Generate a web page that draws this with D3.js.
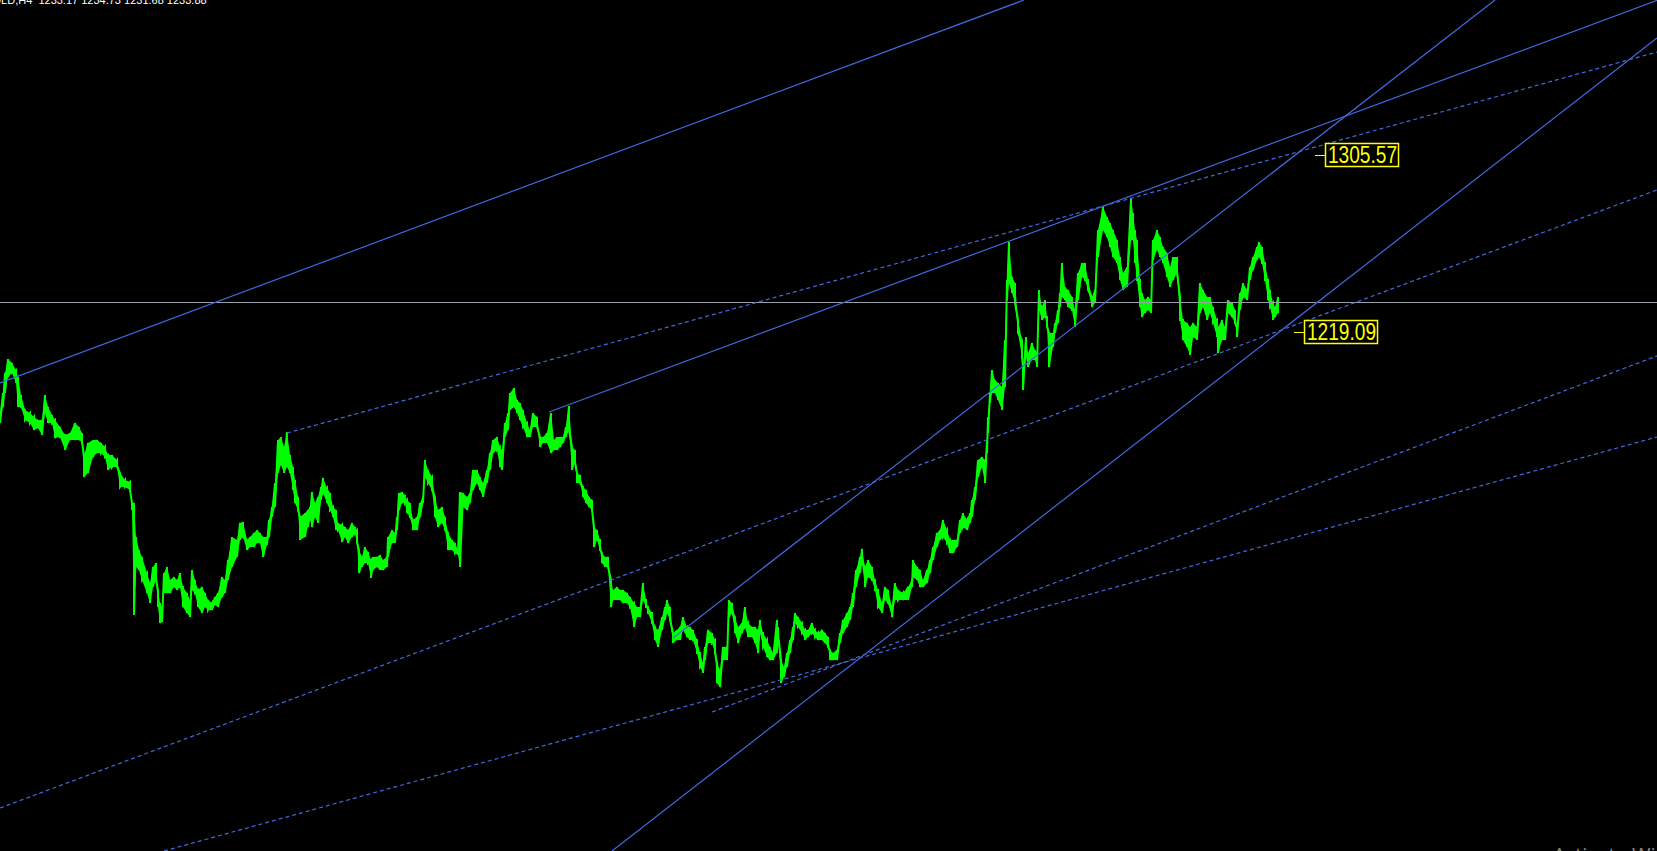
<!DOCTYPE html>
<html>
<head>
<meta charset="utf-8">
<script src="https://cdn.jsdelivr.net/npm/d3@7"></script>
<style>
html, body { margin: 0; padding: 0; background: #000; overflow: hidden; }
</style>
</head>
<body>
<svg width="1657" height="851"></svg>
<script>
var svg = d3.select('svg');

// GOLD H4 - bar index of each sample and its high / low
var bars = [
  0,3,5,8,12,16,18,21,25,30, 34,38,42,45,48,52,55,60,65,70,
  75,79,82,84,88,93,97,101,105,108, 112,117,120,125,130,132,134,136,139,142,
  147,150,153,156,158,160,162,164,167,170, 174,177,180,183,187,190,192,195,198,202,
  205,208,212,215,218,222,225,228,232,237, 240,243,247,250,254,257,260,263,267,269,
  272,275,278,281,284,287,290,293,295,298, 300,305,308,310,312,315,318,321,323,327,
  330,333,336,338,342,345,348,352,355,357, 359,362,365,368,371,373,377,380,383,387,
  388,392,395,397,399,402,405,407,410,413, 417,420,423,425,428,432,435,438,442,445,
  448,452,455,458,460,463,467,470,473,477, 480,483,487,490,493,497,500,502,505,508,
  510,514,517,520,523,527,530,533,537,540, 543,547,551,554,557,560,563,566,569,572,
  575,577,580,583,586,589,592,594,597,600, 602,605,608,611,613,617,620,623,627,630,
  634,637,640,643,646,648,652,655,658,662, 665,667,670,673,677,680,683,687,690,693,
  697,700,703,705,708,712,715,717,720,723, 727,729,732,735,738,742,745,748,752,755,
  758,760,763,767,770,773,777,778,781,784, 787,790,793,795,798,802,805,808,812,815,
  818,822,825,828,830,833,837,840,843,847, 850,853,856,860,862,865,868,872,875,878,
  882,885,888,892,895,898,903,908,912,913, 917,920,923,927,930,933,937,940,943,947,
  950,953,957,960,963,967,970,972,975,978, 982,985,987,988,990,992,995,998,1002,1005,
  1007,1009,1012,1015,1018,1022,1023,1026,1028,1032, 1035,1037,1039,1042,1045,1047,1049,1053,1055,1058,
  1060,1062,1065,1068,1072,1075,1078,1082,1085,1088, 1092,1095,1098,1103,1107,1110,1113,1117,1120,1123,
  1127,1131,1133,1135,1137,1140,1142,1145,1148,1151, 1153,1157,1160,1163,1167,1170,1173,1177,1180,1183,
  1187,1190,1193,1197,1200,1203,1207,1210,1213,1217, 1218,1222,1225,1228,1232,1235,1237,1240,1243,1247,
  1250,1253,1257,1259,1262,1265,1268,1270,1273,1275, 1278
];

var highs = [
  1180.0,1189.3,1199.1,1205.9,1203.9,1200.5,1197.1,1188.3,1181.0,1179.5,
  1177.6,1176.1,1176.1,1188.3,1182.4,1178.5,1176.1,1172.7,1168.8,1169.7,
  1174.6,1172.7,1169.7,1159.0,1164.9,1166.3,1166.3,1164.9,1162.9,1159.0,
  1159.0,1156.5,1150.2,1146.8,1145.8,1135.5,1135.5,1118.9,1112.6,1109.2,
  1101.3,1096.4,1104.3,1106.2,1093.0,1086.7,1084.7,1101.3,1104.3,1097.9,
  1099.4,1097.9,1101.3,1094.5,1091.6,1088.1,1102.8,1097.9,1093.0,1094.5,
  1091.6,1088.1,1086.7,1089.6,1091.6,1099.4,1097.9,1107.7,1118.9,1117.5,
  1125.8,1126.3,1117.5,1118.9,1120.9,1122.3,1120.9,1118.9,1118.9,1127.2,
  1133.6,1145.3,1166.3,1167.8,1162.9,1170.2,1159.0,1153.1,1146.8,1138.5,
  1128.7,1130.6,1132.1,1133.6,1140.9,1135.5,1138.5,1143.4,1147.8,1142.9,
  1140.4,1133.6,1132.1,1125.8,1124.8,1123.8,1122.3,1125.8,1123.8,1122.3,
  1112.6,1109.2,1114.0,1111.6,1107.7,1109.2,1109.2,1110.1,1107.7,1109.2,
  1118.9,1122.3,1120.9,1128.7,1140.4,1140.9,1139.5,1137.0,1135.5,1127.2,
  1128.7,1135.5,1138.5,1156.5,1151.7,1148.2,1138.5,1132.1,1133.6,1128.7,
  1120.9,1117.5,1116.0,1112.6,1140.9,1140.4,1138.5,1140.4,1151.7,1151.7,
  1148.2,1145.3,1151.7,1160.0,1166.3,1167.8,1162.9,1161.4,1174.6,1179.5,
  1189.3,1191.7,1185.9,1184.4,1181.0,1174.6,1171.2,1179.5,1177.6,1167.8,
  1167.8,1169.7,1179.5,1166.3,1167.8,1167.8,1167.8,1172.7,1182.9,1162.9,
  1161.4,1150.2,1149.2,1143.4,1141.9,1138.5,1137.0,1123.8,1122.3,1117.5,
  1111.1,1109.2,1109.2,1097.9,1093.0,1094.5,1093.0,1093.0,1091.6,1089.6,
  1086.7,1084.7,1084.7,1096.4,1088.1,1084.7,1081.8,1075.0,1073.5,1079.8,
  1084.7,1088.1,1084.7,1072.0,1073.5,1075.0,1079.8,1075.0,1075.0,1073.5,
  1068.6,1062.2,1057.4,1065.2,1073.5,1072.0,1068.6,1057.4,1053.9,1065.2,
  1065.2,1088.1,1086.7,1079.8,1075.0,1076.9,1084.7,1076.9,1075.0,1075.0,
  1073.5,1078.4,1072.0,1068.6,1065.2,1062.2,1078.4,1075.0,1058.8,1055.4,
  1062.2,1068.6,1075.0,1081.8,1079.8,1076.9,1073.5,1073.5,1076.9,1073.5,
  1072.0,1073.5,1072.0,1070.1,1063.7,1062.2,1063.7,1072.0,1078.4,1081.8,
  1084.7,1091.6,1102.8,1109.2,1113.1,1104.3,1107.7,1104.3,1097.9,1093.0,
  1086.7,1094.5,1093.0,1084.7,1096.4,1093.0,1091.6,1094.5,1097.9,1107.7,
  1104.3,1102.8,1097.9,1102.8,1107.7,1114.0,1120.9,1122.3,1127.2,1122.3,
  1117.5,1117.5,1117.5,1127.2,1130.6,1127.2,1130.6,1137.0,1143.4,1156.5,
  1158.0,1156.5,1166.3,1177.6,1189.3,1200.5,1195.6,1194.2,1192.2,1215.2,
  1244.5,1263.1,1246.0,1243.0,1225.0,1215.2,1202.0,1216.6,1208.8,1213.7,
  1210.3,1208.8,1239.6,1231.3,1234.7,1226.4,1218.6,1218.6,1223.5,1229.8,
  1238.1,1252.8,1241.1,1239.6,1236.2,1229.8,1247.9,1252.8,1252.8,1244.5,
  1236.2,1239.6,1268.9,1280.2,1275.3,1272.3,1268.9,1264.0,1255.7,1247.9,
  1250.8,1284.6,1277.2,1268.9,1264.0,1244.5,1238.1,1234.7,1236.2,1234.7,
  1264.0,1268.9,1265.5,1260.6,1257.7,1250.8,1255.7,1255.7,1236.2,1225.0,
  1223.5,1221.5,1223.5,1221.5,1243.0,1239.6,1236.2,1236.2,1231.3,1225.0,
  1221.5,1225.0,1221.5,1234.7,1233.3,1229.8,1221.5,1238.1,1243.0,1239.6,
  1250.8,1255.7,1260.6,1263.1,1260.6,1252.8,1244.5,1239.6,1233.3,1231.3,
  1236.2
];

var lows = [
  1174.6,1182.4,1189.3,1197.1,1199.1,1194.2,1182.4,1182.4,1176.1,1174.6,
  1171.2,1172.2,1168.8,1179.5,1174.6,1174.6,1167.3,1167.8,1161.4,1166.3,
  1166.3,1166.3,1165.3,1148.2,1150.2,1158.0,1160.0,1160.0,1158.0,1151.7,
  1153.1,1153.1,1143.4,1143.4,1141.9,1132.1,1080.8,1104.3,1102.8,1097.9,
  1091.6,1086.7,1094.5,1097.9,1084.7,1076.9,1077.4,1091.6,1091.6,1091.6,
  1094.5,1093.0,1094.5,1084.7,1081.8,1079.8,1093.0,1091.6,1084.7,1081.8,
  1084.7,1083.3,1083.3,1085.7,1084.7,1089.6,1091.6,1097.9,1104.3,1109.2,
  1117.5,1118.9,1112.6,1114.0,1114.0,1116.0,1116.0,1109.2,1115.0,1118.9,
  1128.7,1133.6,1150.2,1154.1,1150.2,1153.1,1150.2,1141.9,1135.5,1132.1,
  1117.5,1118.9,1123.8,1127.2,1123.8,1128.7,1125.8,1137.0,1140.4,1135.5,
  1132.1,1128.7,1122.3,1122.3,1116.5,1118.9,1116.0,1118.9,1120.9,1116.0,
  1101.3,1104.3,1106.2,1106.2,1098.9,1102.8,1104.3,1102.8,1102.8,1104.3,
  1109.2,1116.0,1116.0,1122.3,1132.1,1135.5,1135.5,1130.6,1128.7,1122.3,
  1122.3,1128.7,1135.5,1148.2,1145.3,1141.9,1128.7,1123.8,1125.8,1122.3,
  1112.6,1112.6,1111.1,1110.1,1104.3,1133.6,1132.1,1135.5,1141.9,1145.3,
  1141.9,1138.5,1145.3,1151.7,1160.0,1161.4,1153.1,1151.7,1167.8,1171.2,
  1181.0,1182.4,1179.5,1176.1,1172.7,1167.8,1167.8,1172.7,1172.7,1162.9,
  1164.9,1164.9,1160.0,1161.4,1161.4,1162.9,1164.9,1167.8,1171.2,1151.7,
  1155.1,1145.3,1145.3,1138.5,1135.5,1133.6,1132.1,1114.0,1117.5,1112.6,
  1106.2,1104.3,1104.3,1084.7,1088.1,1088.1,1088.1,1086.7,1086.7,1084.7,
  1075.0,1079.8,1079.8,1088.1,1084.7,1081.8,1076.9,1068.6,1065.2,1073.5,
  1078.4,1081.8,1078.4,1067.1,1068.6,1068.6,1073.5,1070.1,1068.6,1068.6,
  1062.2,1055.4,1052.5,1058.8,1067.1,1067.1,1062.2,1047.6,1045.6,1058.8,
  1058.8,1079.8,1081.8,1072.0,1067.1,1072.0,1075.0,1070.1,1070.1,1067.1,
  1062.2,1072.0,1065.2,1060.3,1058.8,1058.8,1062.2,1072.0,1047.6,1050.5,
  1055.4,1062.2,1068.6,1076.9,1075.0,1072.0,1068.6,1070.1,1072.0,1070.1,
  1068.6,1068.6,1067.1,1065.2,1058.8,1058.8,1058.8,1067.1,1072.0,1075.0,
  1078.4,1084.7,1094.5,1101.3,1106.2,1094.5,1099.4,1097.9,1093.0,1084.7,
  1081.8,1088.1,1086.7,1079.8,1088.1,1088.1,1088.1,1088.1,1094.5,1099.4,
  1097.9,1094.5,1094.5,1096.4,1101.3,1107.7,1114.0,1117.5,1118.9,1116.0,
  1111.1,1111.1,1114.0,1120.9,1123.8,1122.3,1125.8,1128.7,1137.0,1148.2,
  1153.1,1145.3,1160.0,1169.7,1184.4,1189.3,1189.3,1185.9,1181.0,1192.2,
  1234.7,1243.0,1238.1,1233.3,1218.6,1206.9,1190.8,1206.9,1202.0,1205.4,
  1205.4,1202.0,1229.8,1225.0,1226.4,1221.5,1202.0,1211.8,1218.6,1223.5,
  1231.3,1236.2,1234.7,1231.3,1229.8,1221.5,1234.7,1246.0,1244.5,1239.6,
  1231.3,1233.3,1255.7,1268.9,1265.5,1260.6,1255.7,1252.8,1244.5,1239.6,
  1241.1,1264.0,1264.0,1252.8,1244.5,1231.3,1226.4,1228.4,1229.8,1228.4,
  1254.3,1259.2,1255.7,1252.8,1246.0,1241.1,1244.5,1247.9,1225.0,1215.2,
  1211.8,1207.9,1216.6,1215.2,1228.4,1231.3,1225.0,1228.4,1223.5,1216.6,
  1208.8,1215.2,1215.2,1228.4,1226.4,1223.5,1216.6,1229.8,1236.2,1234.7,
  1244.5,1249.4,1254.3,1255.7,1252.8,1244.5,1234.7,1231.3,1225.0,1226.4,
  1228.4
];

// trendlines: start [bar, price], end [bar, price], dashed or not
var trendFrom = [[0,1194.2],[549,1180.0],[287,1169.7],[673,1069.6],[612,965.5],[0,986.5],[712,1033.4],[164,965.5]];
var trendTo   = [[1024,1381.3],[1657,1381.1],[1657,1355.9],[1495,1381.3],[1657,1362.7],[1657,1288.5],[1657,1207.4],[1657,1167.8]];
var trendDashed = [false,false,true,false,false,true,true,true];

var bidPrice = 1233.88;
var labelPrices = [1305.57, 1219.09];
var labelBars = [1325, 1304];
var ohlc = ["1233.17", "1234.73", "1231.68", "1233.88"];

var W = 1657, H = 851;
var x = d3.scaleLinear().domain([0, 1657]).range([0, W]);
var y = d3.scaleLinear().domain([965.5, 1381.3]).range([H, 0]);

svg.append("rect").attr("width", W).attr("height", H).attr("fill", "#000");

var series = bars.map(function (b, i) {
    return {bar: b, hi: highs[i], lo: lows[i]};
});

// price bars
var band = d3.area()
    .x(function (d) { return x(d.bar); })
    .y0(function (d) { return y(d.lo); })
    .y1(function (d) { return y(d.hi); });

svg.append("path")
    .datum(series)
    .attr("d", band)
    .attr("fill", "#00ff00");

var zig = [];
series.forEach(function (d) { zig.push([d.bar, d.hi]); zig.push([d.bar, d.lo]); });
svg.append("path")
    .datum(zig)
    .attr("d", d3.line().x(function (d) { return x(d[0]); }).y(function (d) { return y(d[1]); }))
    .attr("fill", "none")
    .attr("stroke", "#00ff00")
    .attr("stroke-width", 2);

svg.selectAll("line.bar")
    .data(series)
    .enter()
    .append("line")
    .attr("class", "bar")
    .attr("x1", function (d) { return x(d.bar); })
    .attr("x2", function (d) { return x(d.bar); })
    .attr("y1", function (d) { return y(d.hi); })
    .attr("y2", function (d) { return y(d.lo); })
    .attr("stroke", "#00ff00")
    .attr("stroke-width", 2)
    .attr("shape-rendering", "crispEdges");

// bid line
svg.append("line")
    .attr("x1", 0).attr("x2", W)
    .attr("y1", Math.round(y(bidPrice)) + 0.5)
    .attr("y2", Math.round(y(bidPrice)) + 0.5)
    .attr("stroke", "#9a9ea6")
    .attr("stroke-width", 1);

// trendlines
svg.selectAll("line.trend")
    .data(trendFrom)
    .enter()
    .append("line")
    .attr("class", "trend")
    .attr("x1", function (d) { return x(d[0]); })
    .attr("y1", function (d) { return y(d[1]); })
    .attr("x2", function (d, i) { return x(trendTo[i][0]); })
    .attr("y2", function (d, i) { return y(trendTo[i][1]); })
    .attr("stroke", "#4169e1")
    .attr("stroke-width", 1.2)
    .attr("stroke-dasharray", function (d, i) { return trendDashed[i] ? "4,3" : null; });

// price labels
var lab = svg.selectAll("g.lab")
    .data(labelPrices)
    .enter()
    .append("g")
    .attr("class", "lab");

lab.append("line")
    .attr("x1", function (d, i) { return x(labelBars[i]) - 10; })
    .attr("x2", function (d, i) { return x(labelBars[i]); })
    .attr("y1", function (d) { return Math.round(y(d)) + 0.5; })
    .attr("y2", function (d) { return Math.round(y(d)) + 0.5; })
    .attr("stroke", "#ffff00")
    .attr("stroke-width", 1);

lab.append("rect")
    .attr("x", function (d, i) { return x(labelBars[i]) + 0.5; })
    .attr("y", function (d) { return Math.round(y(d)) - 11.5; })
    .attr("width", 73)
    .attr("height", 23)
    .attr("fill", "#000")
    .attr("stroke", "#ffff00")
    .attr("stroke-width", 1.5);

lab.append("text")
    .attr("x", function (d, i) { return x(labelBars[i]) + 3; })
    .attr("y", function (d) { return y(d) + 8.5; })
    .attr("textLength", 69)
    .attr("lengthAdjust", "spacingAndGlyphs")
    .attr("fill", "#ffff00")
    .style("font-family", "'Liberation Sans', Arial, sans-serif")
    .style("font-size", "23px")
    .text(function (d) { return d.toFixed(2); });

// symbol header (cut at top edge, as in the terminal window)
svg.append("text")
    .attr("x", -16)
    .attr("y", 4)
    .attr("fill", "#ffffff")
    .style("font-family", "'Liberation Sans', Arial, sans-serif")
    .style("font-size", "11px")
    .attr("xml:space", "preserve")
    .text("GOLD,H4  " + ohlc.join(" "));

// watermark peeking in at bottom edge
svg.append("text")
    .attr("x", 1553)
    .attr("y", 862)
    .attr("fill", "#8a8a8a")
    .style("font-family", "'Open Sans', 'Noto Sans', sans-serif")
    .style("font-size", "20px")
    .text("Activate Windows");
</script>
</body>
</html>
